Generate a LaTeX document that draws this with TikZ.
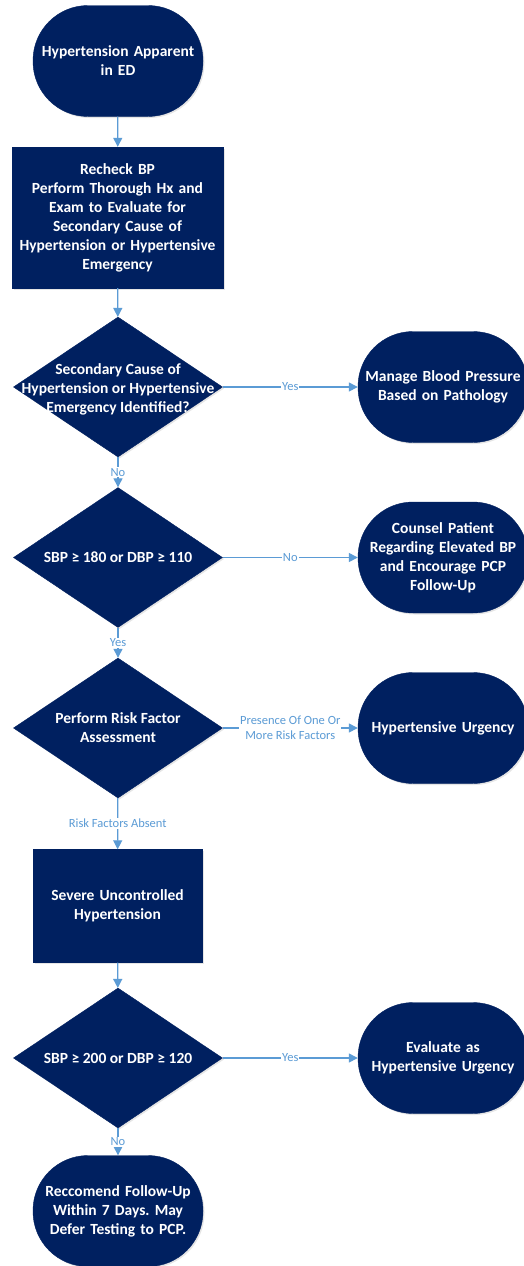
\documentclass[tikz,border=0pt]{standalone}
\usepackage{fontspec}
\setmainfont{Carlito}
\frenchspacing
\usetikzlibrary{shapes.geometric,arrows.meta,shadows}
\definecolor{navy}{HTML}{002060}
\definecolor{lineblue}{HTML}{5B9BD5}
\begin{document}
\begin{tikzpicture}[x=1pt,y=-1pt,
  base/.style={fill=navy, draw=navy, text=white, font=\bfseries\fontsize{15.5}{19}\selectfont, align=center, inner sep=0pt,
    drop shadow={shadow xshift=1.5pt,shadow yshift=-1.5pt,opacity=0.2}},
  term/.style={base, rounded corners=55pt, minimum width=170pt, minimum height=111pt, text width=168pt},
  procbox/.style={base, minimum width=#1, text width=#1-4pt},
  decision/.style={base, diamond, minimum width=209pt, minimum height=140pt},
  dtext/.style={text=white, font=\bfseries\fontsize{15.5}{19}\selectfont, align=center, inner sep=0pt},
  arr/.style={draw=lineblue, line width=1.3pt, -{Triangle[length=9pt,width=9pt]}},
  elabel/.style={fill=white, text=lineblue, font=\fontsize{12.5}{14.5}\selectfont, inner sep=1pt, align=center}
]
\useasboundingbox[fill=white] (0,0) rectangle (523,1266);

\node[term] (n1) at (118,61) {Hypertension Apparent\\in ED};
\node[procbox=211pt, minimum height=141pt] (n2) at (117.5,217.5) {Recheck BP\\Perform Thorough Hx and\\Exam to Evaluate for\\Secondary Cause of\\Hypertension or Hypertensive\\Emergency};
\node[decision] (d1) at (118,387) {};
\node[dtext] (d1t) at (118,389) {Secondary Cause of\\Hypertension or Hypertensive\\Emergency Identified?};
\node[term] (m1) at (443,387) {Manage Blood Pressure\\Based on Pathology};

\node[decision] (d2) at (118,557.5) {};
\node[dtext] (d2t) at (118,557.5) {SBP ≥ 180 or DBP ≥ 110};
\node[term] (c1) at (443,557.5) {Counsel Patient\\Regarding Elevated BP\\and Encourage PCP\\Follow-Up};

\node[decision] (d3) at (118,728) {};
\node[dtext] (d3t) at (118,728) {Perform Risk Factor\\Assessment};
\node[term] (u1) at (443,728) {Hypertensive Urgency};

\node[procbox=169pt, minimum height=113pt] (b4) at (117.5,906) {Severe Uncontrolled\\Hypertension};

\node[decision] (d4) at (118,1058) {};
\node[dtext] (d4t) at (118,1058) {SBP ≥ 200 or DBP ≥ 120};
\node[term] (e1) at (443,1058) {Evaluate as\\Hypertensive Urgency};

\node[term] (f1) at (118,1211) {Reccomend Follow-Up\\Within 7 Days. May\\Defer Testing to PCP.};

\draw[arr] (n1) -- (n2);
\draw[arr] (n2) -- (d1);
\draw[arr] (d1) -- node[elabel]{Yes} (m1);
\draw[arr] (d1) -- node[elabel]{No} (d2);
\draw[arr] (d2) -- node[elabel]{No} (c1);
\draw[arr] (d2) -- node[elabel]{Yes} (d3);
\draw[arr] (d3) -- node[elabel]{Presence Of One Or\\More Risk Factors} (u1);
\draw[arr] (d3) -- node[elabel]{Risk Factors Absent} (b4);
\draw[arr] (b4) -- (d4);
\draw[arr] (d4) -- node[elabel]{Yes} (e1);
\draw[arr] (d4) -- node[elabel]{No} (f1);
\end{tikzpicture}
\end{document}
